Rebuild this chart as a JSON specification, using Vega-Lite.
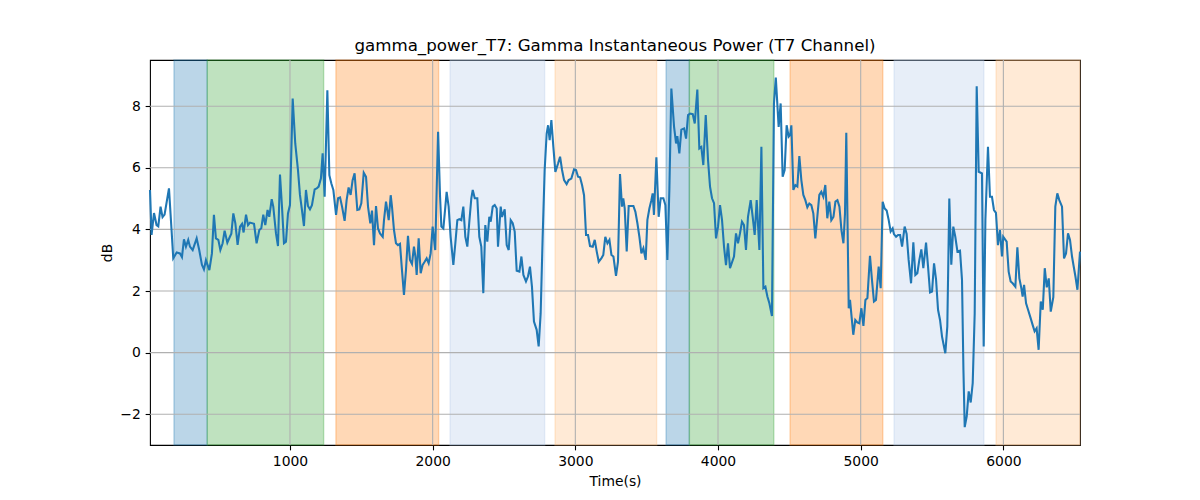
{
  "$schema": "https://vega.github.io/schema/vega-lite/v6.json",
  "width": 930,
  "height": 385,
  "autosize": "none",
  "padding": {"left": 150, "top": 60, "right": 120, "bottom": 55},
  "background": "white",
  "title": {
    "text": "gamma_power_T7: Gamma Instantaneous Power (T7 Channel)",
    "fontSize": 16.67,
    "fontWeight": "normal",
    "font": "DejaVu Sans",
    "color": "black",
    "offset": 5
  },
  "config": {
    "view": {"stroke": "black", "strokeWidth": 1.1},
    "font": "DejaVu Sans",
    "axis": {
      "grid": false,
      "domain": false,
      "tickSize": 4.86,
      "tickWidth": 1.1,
      "tickColor": "black",
      "labelPadding": 4.86,
      "labelFontSize": 13.9,
      "labelColor": "black",
      "labelFont": "DejaVu Sans",
      "labelFlush": false,
      "titleFont": "DejaVu Sans",
      "titleFontSize": 13.9,
      "titleFontWeight": "normal",
      "titleColor": "black",
      "titlePadding": 5.6
    }
  },
  "layer": [
    {
      "data": {
        "values": [
          {"start": 187, "end": 420, "kind": "A"},
          {"start": 420, "end": 1236, "kind": "B"},
          {"start": 1322, "end": 2042, "kind": "C"},
          {"start": 2122, "end": 2785, "kind": "D"},
          {"start": 2858, "end": 3570, "kind": "E"},
          {"start": 3636, "end": 3799, "kind": "A"},
          {"start": 3799, "end": 4391, "kind": "B"},
          {"start": 4505, "end": 5155, "kind": "C"},
          {"start": 5234, "end": 5863, "kind": "D"},
          {"start": 5949, "end": 6537, "kind": "E"}
        ]
      },
      "mark": {"type": "rect", "fillOpacity": 0.3, "strokeOpacity": 0.3, "strokeWidth": 1.4},
      "encoding": {
        "x": {"field": "start", "type": "quantitative",
          "scale": {"domain": [19, 6537], "nice": false, "zero": false},
          "axis": {"title": "Time(s)", "values": [1000, 2000, 3000, 4000, 5000, 6000], "format": "d"}},
        "x2": {"field": "end"},
        "fill": {"field": "kind", "type": "nominal", "legend": null,
          "scale": {"domain": ["A", "B", "C", "D", "E"], "range": ["#1f77b4", "#2ca02c", "#ff7f0e", "#aec7e8", "#ffbb78"]}},
        "stroke": {"field": "kind", "type": "nominal", "legend": null,
          "scale": {"domain": ["A", "B", "C", "D", "E"], "range": ["#1f77b4", "#2ca02c", "#ff7f0e", "#aec7e8", "#ffbb78"]}}
      }
    },
    {
      "data": {"values": [{"t": 1000}, {"t": 2000}, {"t": 3000}, {"t": 4000}, {"t": 5000}, {"t": 6000}]},
      "mark": {"type": "rule", "color": "#b0b0b0", "strokeWidth": 1.1},
      "encoding": {
        "x": {"field": "t", "type": "quantitative",
          "scale": {"domain": [19, 6537], "nice": false, "zero": false},
          "axis": {"title": "Time(s)", "values": [1000, 2000, 3000, 4000, 5000, 6000], "format": "d"}}
      }
    },
    {
      "data": {"values": [{"dB": -2}, {"dB": 0}, {"dB": 2}, {"dB": 4}, {"dB": 6}, {"dB": 8}]},
      "mark": {"type": "rule", "color": "#b0b0b0", "strokeWidth": 1.1},
      "encoding": {
        "y": {"field": "dB", "type": "quantitative",
          "scale": {"domain": [-3, 9.5], "nice": false, "zero": false},
          "axis": {"title": "dB", "values": [-2, 0, 2, 4, 6, 8], "format": "d"}}
      }
    },
    {
      "data": {
        "values": [
          {"t": 19, "dB": 5.28}, {"t": 30, "dB": 3.82}, {"t": 47, "dB": 4.53}, {"t": 65, "dB": 4.14},
          {"t": 77, "dB": 4.10}, {"t": 93, "dB": 4.74}, {"t": 107, "dB": 4.40}, {"t": 121, "dB": 4.48},
          {"t": 152, "dB": 5.33}, {"t": 170, "dB": 3.98}, {"t": 182, "dB": 3.06}, {"t": 206, "dB": 3.25},
          {"t": 229, "dB": 3.22}, {"t": 243, "dB": 3.10}, {"t": 257, "dB": 3.68}, {"t": 271, "dB": 3.44},
          {"t": 287, "dB": 3.66}, {"t": 299, "dB": 3.44}, {"t": 318, "dB": 3.33}, {"t": 346, "dB": 3.71},
          {"t": 364, "dB": 3.33}, {"t": 383, "dB": 2.85}, {"t": 397, "dB": 2.70}, {"t": 411, "dB": 3.00},
          {"t": 435, "dB": 2.68}, {"t": 453, "dB": 3.22}, {"t": 467, "dB": 4.47}, {"t": 481, "dB": 3.71},
          {"t": 498, "dB": 3.66}, {"t": 512, "dB": 3.33}, {"t": 528, "dB": 3.55}, {"t": 542, "dB": 3.96},
          {"t": 561, "dB": 3.57}, {"t": 579, "dB": 3.76}, {"t": 589, "dB": 3.86}, {"t": 603, "dB": 4.52},
          {"t": 617, "dB": 4.20}, {"t": 633, "dB": 3.50}, {"t": 650, "dB": 4.09}, {"t": 664, "dB": 4.18},
          {"t": 675, "dB": 3.90}, {"t": 692, "dB": 4.48}, {"t": 706, "dB": 4.14}, {"t": 720, "dB": 4.22},
          {"t": 748, "dB": 4.18}, {"t": 766, "dB": 3.55}, {"t": 785, "dB": 3.98}, {"t": 799, "dB": 4.04},
          {"t": 813, "dB": 4.48}, {"t": 827, "dB": 4.14}, {"t": 843, "dB": 4.63}, {"t": 855, "dB": 4.41},
          {"t": 872, "dB": 4.98}, {"t": 883, "dB": 4.74}, {"t": 902, "dB": 3.87}, {"t": 916, "dB": 3.46},
          {"t": 930, "dB": 5.78}, {"t": 944, "dB": 4.74}, {"t": 958, "dB": 3.55}, {"t": 972, "dB": 3.60},
          {"t": 986, "dB": 4.52}, {"t": 1000, "dB": 4.79}, {"t": 1019, "dB": 8.25}, {"t": 1037, "dB": 6.79},
          {"t": 1056, "dB": 5.93}, {"t": 1070, "dB": 5.12}, {"t": 1084, "dB": 4.63}, {"t": 1098, "dB": 4.11},
          {"t": 1112, "dB": 5.28}, {"t": 1126, "dB": 4.76}, {"t": 1140, "dB": 4.65}, {"t": 1154, "dB": 4.79},
          {"t": 1173, "dB": 5.30}, {"t": 1187, "dB": 5.33}, {"t": 1201, "dB": 5.39}, {"t": 1217, "dB": 5.66},
          {"t": 1229, "dB": 6.47}, {"t": 1243, "dB": 5.06}, {"t": 1262, "dB": 8.52}, {"t": 1276, "dB": 5.76},
          {"t": 1290, "dB": 5.49}, {"t": 1304, "dB": 5.28}, {"t": 1323, "dB": 4.47}, {"t": 1337, "dB": 5.01},
          {"t": 1351, "dB": 5.04}, {"t": 1365, "dB": 4.74}, {"t": 1383, "dB": 4.28}, {"t": 1397, "dB": 4.95},
          {"t": 1411, "dB": 5.36}, {"t": 1425, "dB": 5.12}, {"t": 1439, "dB": 5.60}, {"t": 1453, "dB": 5.82},
          {"t": 1472, "dB": 4.63}, {"t": 1486, "dB": 4.65}, {"t": 1500, "dB": 4.85}, {"t": 1517, "dB": 5.84},
          {"t": 1533, "dB": 5.71}, {"t": 1547, "dB": 4.74}, {"t": 1563, "dB": 4.20}, {"t": 1575, "dB": 4.61},
          {"t": 1589, "dB": 3.49}, {"t": 1603, "dB": 4.76}, {"t": 1617, "dB": 4.03}, {"t": 1631, "dB": 3.87},
          {"t": 1650, "dB": 3.76}, {"t": 1659, "dB": 4.30}, {"t": 1673, "dB": 4.90}, {"t": 1682, "dB": 4.63},
          {"t": 1692, "dB": 4.30}, {"t": 1706, "dB": 5.11}, {"t": 1715, "dB": 4.74}, {"t": 1729, "dB": 3.98},
          {"t": 1743, "dB": 3.55}, {"t": 1757, "dB": 3.49}, {"t": 1771, "dB": 3.53}, {"t": 1785, "dB": 2.68},
          {"t": 1799, "dB": 1.87}, {"t": 1813, "dB": 2.68}, {"t": 1827, "dB": 3.79}, {"t": 1841, "dB": 3.01},
          {"t": 1855, "dB": 2.88}, {"t": 1869, "dB": 3.44}, {"t": 1879, "dB": 3.12}, {"t": 1888, "dB": 2.52},
          {"t": 1902, "dB": 3.71}, {"t": 1916, "dB": 2.58}, {"t": 1930, "dB": 2.85}, {"t": 1944, "dB": 2.95},
          {"t": 1958, "dB": 3.06}, {"t": 1972, "dB": 2.90}, {"t": 1986, "dB": 3.22}, {"t": 2000, "dB": 4.09},
          {"t": 2018, "dB": 3.33}, {"t": 2038, "dB": 7.17}, {"t": 2052, "dB": 5.06}, {"t": 2061, "dB": 4.09},
          {"t": 2075, "dB": 4.03}, {"t": 2089, "dB": 4.74}, {"t": 2098, "dB": 5.22}, {"t": 2112, "dB": 4.74},
          {"t": 2126, "dB": 3.76}, {"t": 2145, "dB": 2.85}, {"t": 2159, "dB": 3.55}, {"t": 2173, "dB": 4.30},
          {"t": 2187, "dB": 4.33}, {"t": 2201, "dB": 4.30}, {"t": 2215, "dB": 4.74}, {"t": 2229, "dB": 3.76},
          {"t": 2243, "dB": 3.44}, {"t": 2257, "dB": 4.25}, {"t": 2271, "dB": 5.01}, {"t": 2281, "dB": 5.28},
          {"t": 2295, "dB": 5.01}, {"t": 2313, "dB": 5.01}, {"t": 2327, "dB": 3.76}, {"t": 2341, "dB": 3.44},
          {"t": 2355, "dB": 1.93}, {"t": 2369, "dB": 4.14}, {"t": 2383, "dB": 3.60}, {"t": 2397, "dB": 4.41},
          {"t": 2407, "dB": 4.25}, {"t": 2421, "dB": 4.74}, {"t": 2435, "dB": 4.79}, {"t": 2449, "dB": 4.68},
          {"t": 2458, "dB": 3.44}, {"t": 2477, "dB": 4.74}, {"t": 2486, "dB": 4.41}, {"t": 2505, "dB": 4.65},
          {"t": 2519, "dB": 3.49}, {"t": 2533, "dB": 3.33}, {"t": 2547, "dB": 4.30}, {"t": 2561, "dB": 4.20},
          {"t": 2575, "dB": 3.93}, {"t": 2589, "dB": 2.66}, {"t": 2608, "dB": 2.63}, {"t": 2622, "dB": 3.12},
          {"t": 2636, "dB": 2.52}, {"t": 2654, "dB": 2.31}, {"t": 2668, "dB": 2.47}, {"t": 2682, "dB": 2.79},
          {"t": 2696, "dB": 2.14}, {"t": 2710, "dB": 1.01}, {"t": 2729, "dB": 0.74}, {"t": 2743, "dB": 0.20},
          {"t": 2757, "dB": 1.28}, {"t": 2771, "dB": 3.76}, {"t": 2785, "dB": 5.93}, {"t": 2799, "dB": 7.11},
          {"t": 2809, "dB": 7.38}, {"t": 2820, "dB": 6.90}, {"t": 2832, "dB": 7.55}, {"t": 2846, "dB": 6.68},
          {"t": 2860, "dB": 5.87}, {"t": 2879, "dB": 6.14}, {"t": 2893, "dB": 6.36}, {"t": 2907, "dB": 5.93},
          {"t": 2921, "dB": 5.60}, {"t": 2939, "dB": 5.47}, {"t": 2953, "dB": 5.60}, {"t": 2972, "dB": 5.65},
          {"t": 2991, "dB": 5.95}, {"t": 3005, "dB": 5.93}, {"t": 3019, "dB": 5.71}, {"t": 3033, "dB": 5.69},
          {"t": 3047, "dB": 5.44}, {"t": 3061, "dB": 5.11}, {"t": 3075, "dB": 3.82}, {"t": 3089, "dB": 3.82},
          {"t": 3103, "dB": 3.46}, {"t": 3122, "dB": 3.44}, {"t": 3136, "dB": 3.66}, {"t": 3150, "dB": 3.28},
          {"t": 3164, "dB": 2.95}, {"t": 3182, "dB": 3.06}, {"t": 3196, "dB": 3.17}, {"t": 3210, "dB": 3.76},
          {"t": 3225, "dB": 3.55}, {"t": 3239, "dB": 3.66}, {"t": 3253, "dB": 3.17}, {"t": 3267, "dB": 3.12},
          {"t": 3285, "dB": 2.49}, {"t": 3299, "dB": 2.95}, {"t": 3313, "dB": 5.80}, {"t": 3327, "dB": 4.74},
          {"t": 3336, "dB": 5.01}, {"t": 3346, "dB": 4.68}, {"t": 3360, "dB": 3.28}, {"t": 3374, "dB": 4.76},
          {"t": 3393, "dB": 4.76}, {"t": 3407, "dB": 4.76}, {"t": 3421, "dB": 4.57}, {"t": 3435, "dB": 4.20},
          {"t": 3449, "dB": 3.76}, {"t": 3463, "dB": 3.22}, {"t": 3477, "dB": 3.39}, {"t": 3493, "dB": 3.01},
          {"t": 3505, "dB": 4.31}, {"t": 3519, "dB": 4.68}, {"t": 3533, "dB": 4.95}, {"t": 3542, "dB": 5.17},
          {"t": 3551, "dB": 4.47}, {"t": 3568, "dB": 6.34}, {"t": 3584, "dB": 4.41}, {"t": 3598, "dB": 5.01},
          {"t": 3617, "dB": 5.01}, {"t": 3631, "dB": 4.79}, {"t": 3645, "dB": 3.01}, {"t": 3659, "dB": 5.28},
          {"t": 3673, "dB": 8.57}, {"t": 3692, "dB": 7.33}, {"t": 3706, "dB": 6.79}, {"t": 3715, "dB": 7.03},
          {"t": 3729, "dB": 6.47}, {"t": 3743, "dB": 7.24}, {"t": 3762, "dB": 7.28}, {"t": 3776, "dB": 6.95},
          {"t": 3790, "dB": 7.71}, {"t": 3804, "dB": 7.76}, {"t": 3823, "dB": 7.74}, {"t": 3837, "dB": 7.44},
          {"t": 3855, "dB": 8.54}, {"t": 3869, "dB": 6.63}, {"t": 3883, "dB": 6.68}, {"t": 3897, "dB": 6.09},
          {"t": 3914, "dB": 7.71}, {"t": 3930, "dB": 6.25}, {"t": 3944, "dB": 5.39}, {"t": 3958, "dB": 5.01},
          {"t": 3972, "dB": 4.85}, {"t": 3986, "dB": 3.71}, {"t": 4000, "dB": 4.09}, {"t": 4014, "dB": 4.79},
          {"t": 4028, "dB": 4.31}, {"t": 4042, "dB": 3.44}, {"t": 4056, "dB": 2.84}, {"t": 4070, "dB": 3.55},
          {"t": 4084, "dB": 2.74}, {"t": 4112, "dB": 3.12}, {"t": 4126, "dB": 3.87}, {"t": 4140, "dB": 3.55},
          {"t": 4154, "dB": 3.87}, {"t": 4168, "dB": 4.25}, {"t": 4182, "dB": 4.14}, {"t": 4196, "dB": 3.33},
          {"t": 4210, "dB": 4.41}, {"t": 4229, "dB": 4.95}, {"t": 4243, "dB": 4.41}, {"t": 4257, "dB": 3.82},
          {"t": 4271, "dB": 4.95}, {"t": 4290, "dB": 3.33}, {"t": 4304, "dB": 6.68}, {"t": 4318, "dB": 2.09},
          {"t": 4332, "dB": 2.14}, {"t": 4346, "dB": 1.82}, {"t": 4360, "dB": 1.60}, {"t": 4378, "dB": 1.19},
          {"t": 4392, "dB": 8.09}, {"t": 4405, "dB": 8.93}, {"t": 4425, "dB": 7.33}, {"t": 4439, "dB": 8.09},
          {"t": 4453, "dB": 5.71}, {"t": 4467, "dB": 5.93}, {"t": 4481, "dB": 7.38}, {"t": 4495, "dB": 7.01},
          {"t": 4505, "dB": 7.06}, {"t": 4514, "dB": 7.38}, {"t": 4528, "dB": 5.28}, {"t": 4542, "dB": 5.44},
          {"t": 4556, "dB": 5.39}, {"t": 4570, "dB": 6.38}, {"t": 4584, "dB": 5.60}, {"t": 4598, "dB": 5.12},
          {"t": 4612, "dB": 4.95}, {"t": 4626, "dB": 4.72}, {"t": 4640, "dB": 4.84}, {"t": 4654, "dB": 4.79},
          {"t": 4668, "dB": 4.52}, {"t": 4682, "dB": 3.71}, {"t": 4696, "dB": 4.41}, {"t": 4710, "dB": 5.12},
          {"t": 4724, "dB": 5.22}, {"t": 4738, "dB": 5.06}, {"t": 4752, "dB": 5.44}, {"t": 4766, "dB": 4.36},
          {"t": 4780, "dB": 4.90}, {"t": 4794, "dB": 4.30}, {"t": 4809, "dB": 4.41}, {"t": 4823, "dB": 4.90},
          {"t": 4837, "dB": 4.95}, {"t": 4851, "dB": 4.74}, {"t": 4865, "dB": 3.98}, {"t": 4879, "dB": 3.55},
          {"t": 4890, "dB": 4.52}, {"t": 4899, "dB": 7.14}, {"t": 4916, "dB": 1.44}, {"t": 4925, "dB": 1.71},
          {"t": 4948, "dB": 0.58}, {"t": 4962, "dB": 1.06}, {"t": 4976, "dB": 0.98}, {"t": 4990, "dB": 0.95},
          {"t": 5005, "dB": 1.44}, {"t": 5019, "dB": 0.87}, {"t": 5033, "dB": 1.71}, {"t": 5047, "dB": 1.77},
          {"t": 5065, "dB": 3.14}, {"t": 5079, "dB": 2.36}, {"t": 5093, "dB": 1.66}, {"t": 5107, "dB": 1.71},
          {"t": 5126, "dB": 2.79}, {"t": 5140, "dB": 2.09}, {"t": 5154, "dB": 4.90}, {"t": 5168, "dB": 4.68},
          {"t": 5182, "dB": 4.61}, {"t": 5196, "dB": 4.31}, {"t": 5210, "dB": 3.93}, {"t": 5224, "dB": 4.03},
          {"t": 5233, "dB": 3.85}, {"t": 5248, "dB": 3.76}, {"t": 5262, "dB": 3.82}, {"t": 5276, "dB": 3.82},
          {"t": 5290, "dB": 3.44}, {"t": 5308, "dB": 4.09}, {"t": 5322, "dB": 3.85}, {"t": 5336, "dB": 3.01},
          {"t": 5353, "dB": 2.25}, {"t": 5369, "dB": 3.58}, {"t": 5383, "dB": 2.52}, {"t": 5397, "dB": 2.58},
          {"t": 5411, "dB": 3.01}, {"t": 5425, "dB": 3.35}, {"t": 5439, "dB": 2.74}, {"t": 5458, "dB": 3.57},
          {"t": 5472, "dB": 2.79}, {"t": 5486, "dB": 1.95}, {"t": 5500, "dB": 1.98}, {"t": 5514, "dB": 2.90},
          {"t": 5528, "dB": 2.38}, {"t": 5542, "dB": 1.39}, {"t": 5556, "dB": 1.06}, {"t": 5570, "dB": 0.52},
          {"t": 5593, "dB": -0.02}, {"t": 5607, "dB": 0.85}, {"t": 5621, "dB": 5.00}, {"t": 5635, "dB": 2.85},
          {"t": 5649, "dB": 4.09}, {"t": 5663, "dB": 3.76}, {"t": 5678, "dB": 3.28}, {"t": 5696, "dB": 3.31},
          {"t": 5710, "dB": 2.36}, {"t": 5720, "dB": -0.56}, {"t": 5729, "dB": -2.42}, {"t": 5743, "dB": -2.07},
          {"t": 5757, "dB": -1.26}, {"t": 5771, "dB": -1.62}, {"t": 5785, "dB": -0.99}, {"t": 5799, "dB": 1.28},
          {"t": 5813, "dB": 8.65}, {"t": 5827, "dB": 5.87}, {"t": 5841, "dB": 5.84}, {"t": 5850, "dB": 5.82},
          {"t": 5862, "dB": 0.20}, {"t": 5874, "dB": 4.31}, {"t": 5892, "dB": 6.68}, {"t": 5906, "dB": 5.06},
          {"t": 5920, "dB": 5.06}, {"t": 5934, "dB": 4.63}, {"t": 5948, "dB": 4.54}, {"t": 5962, "dB": 3.49},
          {"t": 5976, "dB": 3.98}, {"t": 5990, "dB": 3.12}, {"t": 5999, "dB": 3.76}, {"t": 6014, "dB": 3.66},
          {"t": 6023, "dB": 3.60}, {"t": 6037, "dB": 2.63}, {"t": 6051, "dB": 2.31}, {"t": 6065, "dB": 2.25},
          {"t": 6084, "dB": 2.14}, {"t": 6098, "dB": 3.42}, {"t": 6112, "dB": 2.41}, {"t": 6126, "dB": 2.09},
          {"t": 6135, "dB": 1.82}, {"t": 6145, "dB": 2.20}, {"t": 6159, "dB": 1.60}, {"t": 6173, "dB": 1.39},
          {"t": 6191, "dB": 1.12}, {"t": 6205, "dB": 0.90}, {"t": 6219, "dB": 0.69}, {"t": 6233, "dB": 0.79},
          {"t": 6247, "dB": 0.09}, {"t": 6262, "dB": 1.66}, {"t": 6276, "dB": 1.39}, {"t": 6290, "dB": 2.74},
          {"t": 6304, "dB": 2.12}, {"t": 6318, "dB": 2.41}, {"t": 6332, "dB": 1.33}, {"t": 6350, "dB": 1.80},
          {"t": 6364, "dB": 4.74}, {"t": 6378, "dB": 5.17}, {"t": 6392, "dB": 4.95}, {"t": 6411, "dB": 4.74},
          {"t": 6425, "dB": 3.06}, {"t": 6439, "dB": 3.22}, {"t": 6453, "dB": 3.87}, {"t": 6467, "dB": 3.66},
          {"t": 6481, "dB": 3.12}, {"t": 6495, "dB": 2.74}, {"t": 6505, "dB": 2.47}, {"t": 6519, "dB": 2.04},
          {"t": 6537, "dB": 3.28}
        ]
      },
      "mark": {"type": "line", "color": "#1f77b4", "strokeWidth": 2.08},
      "encoding": {
        "x": {"field": "t", "type": "quantitative",
          "scale": {"domain": [19, 6537], "nice": false, "zero": false},
          "axis": {"title": "Time(s)", "values": [1000, 2000, 3000, 4000, 5000, 6000], "format": "d"}},
        "y": {"field": "dB", "type": "quantitative",
          "scale": {"domain": [-3, 9.5], "nice": false, "zero": false},
          "axis": {"title": "dB", "values": [-2, 0, 2, 4, 6, 8], "format": "d"}}
      }
    }
  ]
}
